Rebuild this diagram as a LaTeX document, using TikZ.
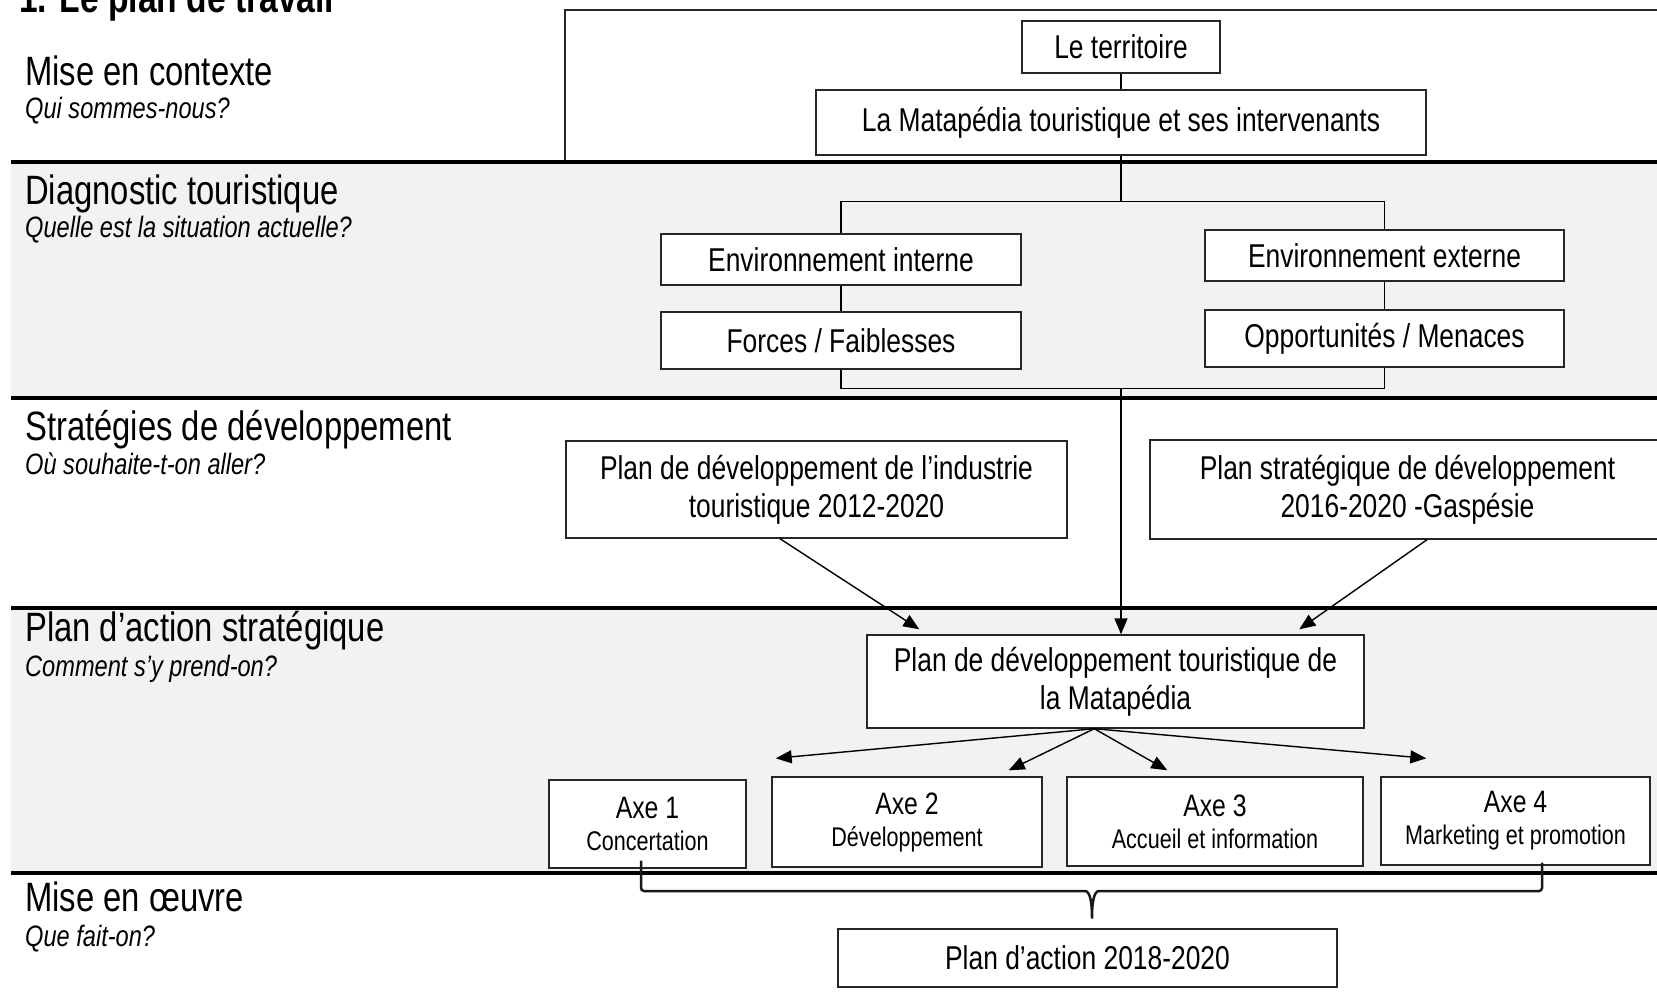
\documentclass[tikz,border=0pt]{standalone}
\usepackage{fontspec}
\setmainfont{Liberation Sans}[FakeStretch=0.8]
\usetikzlibrary{arrows.meta,calc}
\definecolor{bandgray}{HTML}{F2F2F2}
\begin{document}
\begin{tikzpicture}[x=1pt,y=-1pt,
  box/.style={draw=black!85, line width=1.4pt, fill=white, inner sep=0pt, align=center,
              font=\fontsize{33}{38}\selectfont},
  axebox/.style={box, font=\fontsize{27}{32}\selectfont},
  conn/.style={line width=1.2pt, black},
  arr/.style={line width=1.4pt, black, -{Triangle[length=16pt,width=13pt]}},
  sepline/.style={line width=3.5pt, black},
  bracestyle/.style={line width=2.5pt, black!90, rounded corners=3pt},
  sect/.style={anchor=base west, inner sep=0pt, font=\fontsize{41}{46}\selectfont},
  ques/.style={anchor=base west, inner sep=0pt, font=\fontsize{29.5}{34}\selectfont\itshape},
]
\useasboundingbox (0,0) rectangle (1657,1005);
\clip (0,0) rectangle (1657,1005);
\fill[white] (0,0) rectangle (1657,1005);
% bands
\fill[bandgray] (11,162) rectangle (1660,398);
\fill[bandgray] (11,608) rectangle (1660,873);
% context frame
\draw[line width=2.5pt, black!85] (565,10) rectangle (1680,162);
% separator lines
\draw[sepline] (11,162) -- (1660,162);
\draw[sepline] (11,398) -- (1660,398);
\draw[sepline] (11,608) -- (1660,608);
\draw[sepline] (11,873) -- (1660,873);

% title and left labels
\node[anchor=base west, inner sep=0pt, font=\fontsize{42}{46}\selectfont\bfseries] (title) at (19,12) {1. Le plan de travail};
\node[sect] (s1) at (25,85) {Mise en contexte};
\node[ques] (q1) at (25,118) {Qui sommes-nous?};
\node[sect] (s2) at (25,204) {Diagnostic touristique};
\node[ques] (q2) at (25,237) {Quelle est la situation actuelle?};
\node[sect] (s3) at (25,440) {Stratégies de développement};
\node[ques] (q3) at (25,474) {Où souhaite-t-on aller?};
\node[sect] (s4) at (25,641) {Plan d’action stratégique};
\node[ques] (q4) at (25,676) {Comment s’y prend-on?};
\node[sect] (s5) at (25,911) {Mise en œuvre};
\node[ques] (q5) at (25,946) {Que fait-on?};

% boxes
\node[box, minimum width=198pt, minimum height=52pt] (terr) at (1121,47) {Le territoire};
\node[box, minimum width=610pt, minimum height=65pt] (mat) at (1121,122.5) {La Matapédia touristique et ses intervenants};
\node[box, minimum width=360pt, minimum height=51pt] (envint) at (841,259.5) {Environnement interne};
\node[box, minimum width=359pt, minimum height=51pt] (envext) at (1384.5,255.5) {Environnement externe};
\node[box, minimum width=360pt, minimum height=57pt] (forces) at (841,340.5) {Forces / Faiblesses};
\node[box, minimum width=359pt, minimum height=57pt] (opp) at (1384.5,338.5) {Opportunités / Menaces};
\node[box, minimum width=501pt, minimum height=97pt] (pdi) at (816.5,489.5) {Plan de développement de l’industrie\\touristique 2012-2020};
\node[box, minimum width=515pt, minimum height=99pt] (gas) at (1407.5,489.5) {Plan stratégique de développement\\2016-2020 -Gaspésie};
\node[box, minimum width=497pt, minimum height=93pt] (pdm) at (1115.5,681.5) {Plan de développement touristique de\\la Matapédia};
\node[axebox, minimum width=197pt, minimum height=88pt] (axe1) at (647.5,824) {{\fontsize{31}{32}\selectfont Axe 1}\\Concertation};
\node[axebox, minimum width=270pt, minimum height=90pt] (axe2) at (907,822) {{\fontsize{31}{32}\selectfont Axe 2}\\Développement};
\node[axebox, minimum width=296pt, minimum height=89pt] (axe3) at (1215,821.5) {{\fontsize{31}{32}\selectfont Axe 3}\\Accueil et information};
\node[axebox, minimum width=269pt, minimum height=88pt] (axe4) at (1515.5,821) {{\fontsize{31}{32}\selectfont Axe 4}\\Marketing et promotion};
\node[box, minimum width=499pt, minimum height=58pt] (pda) at (1087.5,958) {Plan d’action 2018-2020};

% connectors
\coordinate (topjoin) at ($(mat.south)+(0,46)$);
\coordinate (botjoin) at ($(mat.south)+(0,233)$);
\draw[conn] (terr.south) -- (mat.north);
\draw[conn] (mat.south) -- (topjoin);
\draw[conn] (envint.north) |- (topjoin) -| (envext.north);
\draw[conn] (envint.south) -- (forces.north);
\draw[conn] (envext.south) -- (opp.north);
\draw[conn] (forces.south) |- (botjoin) -| (opp.south);
\draw[arr] (botjoin) -- (botjoin |- pdm.north);
\draw[arr] ($(pdi.south)+(-36.5,0)$) -- ($(pdm.north west)+(53,-5)$);
\draw[arr] ($(gas.south)+(19.5,0)$) -- ($(pdm.north west)+(433,-5)$);
\coordinate (fan) at ($(pdm.south west)+(228,0)$);
\draw[arr] (fan) -- ($(axe1.north east)+(29,-21)$);
\draw[arr] (fan) -- ($(axe2.north east)+(-34,-6)$);
\draw[arr] (fan) -- ($(axe3.north west)+(101,-6)$);
\draw[arr] (fan) -- ($(axe4.north west)+(46,-18)$);

% brace
\coordinate (bl) at ($(axe1.south)+(-6.5,-8)$);
\coordinate (br) at ($(axe4.south)+(26.5,-3)$);
\coordinate (tip) at ($(pda.north)+(4.5,-8)$);
\draw[bracestyle] (bl) -- (bl |- 0,891) -- ($(tip |- 0,891)+(-10,0)$)
   .. controls ($(tip |- 0,891)+(-2,0)$) and ($(tip)+(0,-18)$) .. (tip)
   .. controls ($(tip)+(0,-18)$) and ($(tip |- 0,891)+(2,0)$) .. ($(tip |- 0,891)+(10,0)$)
   -- (br |- 0,891) -- (br);
\end{tikzpicture}
\end{document}
